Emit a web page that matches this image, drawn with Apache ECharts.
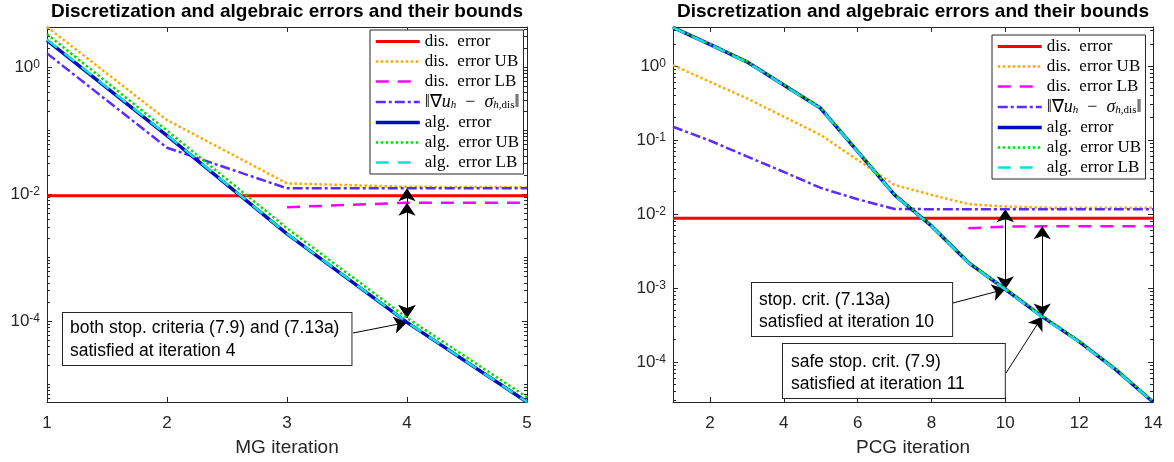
<!DOCTYPE html>
<html><head><meta charset="utf-8">
<script src="https://cdn.jsdelivr.net/npm/echarts@6/dist/echarts.min.js"></script>
<style>html,body{margin:0;padding:0;background:#fff}#c{width:1174px;height:462px}</style>
</head><body><div id="c"></div>
<script>
// ---------- data ----------
const seriesNames = ['dis. error', 'dis. error UB', 'dis. error LB', '‖∇u_h − σ_h,dis‖', 'alg. error', 'alg. error UB', 'alg. error LB'];

const mgIter      = [1, 2, 3, 4, 5];
const mgDisErr    = [0.0094, 0.0094, 0.0094, 0.0094, 0.0094];
const mgDisUB     = [4.27, 0.146, 0.0147, 0.0130, 0.0128];
const mgDisLB     = [null, null, 0.0062, 0.0073, 0.0073];
const mgGradNorm  = [1.64, 0.0536, 0.0123, 0.0123, 0.0123];
const mgAlgErr    = [2.62, 0.083, 0.00236, 0.000095, 0.0000053];
const mgAlgUB     = [3.30, 0.100, 0.00290, 0.000112, 0.0000063];
const mgAlgLB     = [2.72, 0.085, 0.00238, 0.000096, 0.0000053];

const pcgIter     = [1, 2, 3, 4, 5, 6, 7, 8, 9, 10, 11, 12, 13, 14];
const pcgDisErr   = [0.00874, 0.00874, 0.00874, 0.00874, 0.00874, 0.00874, 0.00874, 0.00874, 0.00874, 0.00874, 0.00874, 0.00874, 0.00874, 0.00874];
const pcgDisUB    = [1.03, 0.61, 0.366, 0.207, 0.117, 0.0537, 0.0247, 0.0181, 0.0136, 0.0126, 0.0122, 0.0121, 0.0121, 0.0121];
const pcgDisLB    = [null, null, null, null, null, null, null, null, 0.0064, 0.00674, 0.0068, 0.0068, 0.0068, 0.0068];
const pcgGradNorm = [0.151, 0.098, 0.060, 0.037, 0.0225, 0.0158, 0.0117, 0.0116, 0.0116, 0.0116, 0.0116, 0.0116, 0.0116, 0.0116];
const pcgAlgErr   = [3.33, 1.96, 1.14, 0.553, 0.268, 0.0703, 0.0181, 0.00689, 0.00220, 0.00096, 0.00041, 0.000188, 0.000078, 0.0000287];
const pcgAlgUB    = [3.36, 1.98, 1.15, 0.560, 0.272, 0.0712, 0.0184, 0.00699, 0.00224, 0.00098, 0.00042, 0.000192, 0.000080, 0.0000293];
const pcgAlgLB    = [3.30, 1.94, 1.13, 0.548, 0.265, 0.0697, 0.0179, 0.00682, 0.00218, 0.00095, 0.00040, 0.000186, 0.000077, 0.0000287];

const mgXTicks  = [1, 2, 3, 4, 5];
const pcgXTicks = [2, 4, 6, 8, 10, 12, 14];
const mgYLabels  = [1e-4, 1e-2, 1];
const pcgYLabels = [1e-4, 1e-3, 1e-2, 1e-1, 1];

const titleText = 'Discretization and algebraic errors and their bounds';
const mgBoxText = 'both stop. criteria (7.9) and (7.13a)\nsatisfied at iteration 4';
const pcgBox1Text = 'stop. crit. (7.13a)\nsatisfied at iteration 10';
const pcgBox2Text = 'safe stop. crit. (7.9)\nsatisfied at iteration 11';

// ---------- styling ----------
const AX = '#262626';
const SANS = '"Liberation Sans", Arial, sans-serif';
const SERIF = '"Liberation Serif", "Times New Roman", serif';
const styles = [
  {color: '#ff0000', width: 3,   type: 'solid'},
  {color: '#ffa800', width: 2.5, type: [2.5, 2.5]},
  {color: '#ff00ff', width: 2.5, type: [13, 9]},
  {color: '#5b2bff', width: 2.5, type: [10, 3, 3, 3]},
  {color: '#0010c0', width: 3.5, type: 'solid'},
  {color: '#00e000', width: 2.5, type: [2.5, 2.5]},
  {color: '#18dcdc', width: 2.5, type: [13, 9]}
];

function pairs(xs, ys) {
  const out = [];
  xs.forEach((x, i) => { if (ys[i] != null) out.push([x, ys[i]]); });
  return out;
}
function minorTicks(e0, e1, majors) {
  const t = [];
  for (let e = e0; e <= e1; e++) for (let k = 1; k <= 9; k++) {
    if (k === 1 && majors.indexOf(e) >= 0) continue;
    t.push(+(k * Math.pow(10, e)).toPrecision(6));
  }
  return t;
}
const mgMinor = minorTicks(-6, 0, [-4, -2, 0]);
const pcgMinor = minorTicks(-5, 0, [-4, -3, -2, -1, 0]);

function yLabelFmt(v) {
  const e = Math.round(Math.log10(v));
  return '{b|10}{e|' + e + '}';
}
const yRich = {
  b: {fontSize: 17, fontFamily: SANS, color: AX, lineHeight: 17, verticalAlign: 'bottom'},
  e: {fontSize: 12, fontFamily: SANS, color: AX, lineHeight: 12, verticalAlign: 'top', padding: [0, 0, 7, 0]}
};

function xAxes(gi, min, max, ticks, name) {
  const common = {
    gridIndex: gi, type: 'value', min: min, max: max,
    axisLine: {show: true, onZero: false, lineStyle: {color: AX, width: 1}},
    axisTick: {show: true, inside: true, length: 5, customValues: ticks, lineStyle: {color: AX}},
    splitLine: {show: false}
  };
  return [
    Object.assign({}, common, {
      position: 'bottom',
      axisLabel: {show: true, customValues: ticks, fontSize: 17, fontFamily: SANS, color: AX, margin: 13},
      name: name, nameLocation: 'middle', nameGap: 36,
      nameTextStyle: {fontSize: 19, fontFamily: SANS, color: AX}
    }),
    Object.assign({}, common, {position: 'top', axisLabel: {show: false}})
  ];
}
function yAxes(gi, min, max, labels, minor) {
  const base = {gridIndex: gi, type: 'log', logBase: 10, min: min, max: max, splitLine: {show: false}};
  return [
    Object.assign({}, base, {
      position: 'left',
      axisLine: {show: true, onZero: false, lineStyle: {color: AX, width: 1}},
      axisTick: {show: true, inside: true, length: 5, customValues: labels, lineStyle: {color: AX}},
      axisLabel: {show: true, customValues: labels, formatter: yLabelFmt, rich: yRich, margin: 7}
    }),
    Object.assign({}, base, {
      position: 'left', axisLine: {show: false},
      axisTick: {show: true, inside: true, length: 3, customValues: minor, lineStyle: {color: AX}},
      axisLabel: {show: false}
    }),
    Object.assign({}, base, {
      position: 'right',
      axisLine: {show: true, onZero: false, lineStyle: {color: AX, width: 1}},
      axisTick: {show: true, inside: true, length: 5, customValues: labels, lineStyle: {color: AX}},
      axisLabel: {show: false}
    }),
    Object.assign({}, base, {
      position: 'right', axisLine: {show: false},
      axisTick: {show: true, inside: true, length: 3, customValues: minor, lineStyle: {color: AX}},
      axisLabel: {show: false}
    })
  ];
}

function mkSeries(gi, xs, arrs) {
  return arrs.map((ys, k) => ({
    type: 'line', name: seriesNames[k], xAxisIndex: gi * 2, yAxisIndex: gi * 4,
    data: pairs(xs, ys), symbol: 'none', showSymbol: false, silent: true,
    lineStyle: {color: styles[k].color, width: styles[k].width, type: styles[k].type, cap: 'butt'},
    itemStyle: {color: styles[k].color}, z: 2 + k,
    emphasis: {disabled: true}
  }));
}

const arrowLine = {color: '#000', width: 1, type: 'solid'};
function annot(gi, lines) {
  return {
    type: 'line', name: 'annot' + gi, xAxisIndex: gi * 2, yAxisIndex: gi * 4, data: [],
    silent: true, z: 20,
    markLine: {
      silent: true, animation: false, precision: 10,
      label: {show: false}, lineStyle: arrowLine, emphasis: {disabled: true},
      symbolSize: 13,
      data: lines
    }
  };
}

const legendRich = {
  n: {fontFamily: SERIF, fontSize: 17, lineHeight: 17, color: '#000'},
  m: {fontFamily: SERIF, fontSize: 18, lineHeight: 17, color: '#000'},
  i: {fontFamily: SERIF, fontSize: 18, lineHeight: 17, fontStyle: 'italic', color: '#000'},
  s: {fontFamily: SERIF, fontSize: 11, lineHeight: 17, fontStyle: 'italic', color: '#000', verticalAlign: 'bottom', padding: [4, 0, 0, 0]},
  r: {fontFamily: SERIF, fontSize: 11, lineHeight: 17, color: '#000', verticalAlign: 'bottom', padding: [4, 0, 0, 0]}
};
function legendFmt(name) {
  if (name === seriesNames[3]) return '{m|‖∇}{i|u}{s|h}{m|  −  }{i|σ}{s|h,}{r|dis}{m|‖}';
  return '{n|' + name.replace('. ', '.  ') + '}';
}
function legend(left, top) {
  return {
    left: left, top: top, orient: 'vertical', data: seriesNames,
    itemWidth: 44, itemHeight: 12, itemGap: 3, padding: [3, 4, 3, 4],
    borderColor: AX, borderWidth: 1, backgroundColor: '#fff',
    selectedMode: false, formatter: legendFmt,
    itemStyle: {opacity: 0},
    lineStyle: {width: 'inherit', opacity: 1},
    textStyle: {fontFamily: SERIF, fontSize: 17, color: '#000', rich: legendRich}
  };
}
function textBox(left, top, text, pad, lh) {
  return {
    type: 'text', left: left, top: top, z: 100,
    style: {
      text: text, fontSize: 17.5, fontFamily: SANS, fill: '#000', lineHeight: lh,
      backgroundColor: '#fff', borderColor: AX, borderWidth: 1, padding: pad
    }
  };
}

const option = {
  animation: false,
  backgroundColor: '#fff',
  title: [
    {text: titleText, left: 287, top: 2, padding: 0, textAlign: 'center',
     textStyle: {fontFamily: SANS, fontWeight: 'bold', fontSize: 19, color: '#000'}},
    {text: titleText, left: 913, top: 2, padding: 0, textAlign: 'center',
     textStyle: {fontFamily: SANS, fontWeight: 'bold', fontSize: 19, color: '#000'}}
  ],
  grid: [
    {left: 47, top: 27, width: 480, height: 375, containLabel: false},
    {left: 673, top: 27, width: 480, height: 375, containLabel: false}
  ],
  xAxis: [].concat(xAxes(0, 1, 5, mgXTicks, 'MG iteration'), xAxes(1, 1, 14, pcgXTicks, 'PCG iteration')),
  yAxis: [].concat(yAxes(0, 5.3e-6, 4.27, mgYLabels, mgMinor), yAxes(1, 2.87e-5, 3.37, pcgYLabels, pcgMinor)),
  legend: [legend(370, 30), legend(992, 35)],
  series: [].concat(
    mkSeries(0, mgIter, [mgDisErr, mgDisUB, mgDisLB, mgGradNorm, mgAlgErr, mgAlgUB, mgAlgLB]),
    mkSeries(1, pcgIter, [pcgDisErr, pcgDisUB, pcgDisLB, pcgGradNorm, pcgAlgErr, pcgAlgUB, pcgAlgLB]),
    [
      annot(0, [
        [{coord: [mgIter[3], mgGradNorm[3]], symbol: 'arrow'}, {coord: [mgIter[3], mgAlgUB[3]], symbol: 'arrow'}],
        [{coord: [mgIter[3], mgDisLB[3]], symbol: 'arrow'}, {coord: [mgIter[3], mgAlgUB[3]], symbol: 'arrow'}],
        [{x: 353, y: 333, symbol: 'none'}, {coord: [mgIter[3], mgAlgErr[3]], symbol: 'arrow'}]
      ]),
      annot(1, [
        [{coord: [pcgIter[9], pcgGradNorm[9]], symbol: 'arrow'}, {coord: [pcgIter[9], pcgAlgErr[9]], symbol: 'arrow'}],
        [{coord: [pcgIter[10], pcgDisLB[10]], symbol: 'arrow'}, {coord: [pcgIter[10], pcgAlgErr[10]], symbol: 'arrow'}],
        [{x: 953, y: 303, symbol: 'none'}, {coord: [pcgIter[9], pcgAlgErr[9]], symbol: 'arrow'}],
        [{x: 1006, y: 373, symbol: 'none'}, {coord: [pcgIter[10], pcgAlgErr[10]], symbol: 'arrow'}]
      ])
    ]
  ),
  graphic: [
    textBox(62, 312, mgBoxText, [4, 12, 2, 7], 23),
    textBox(751, 282, pcgBox1Text, [6, 18, 3, 7], 22),
    textBox(782, 343, pcgBox2Text, [7, 40, 3, 8], 22)
  ]
};

const chart = echarts.init(document.getElementById('c'), null, {renderer: 'canvas'});
chart.setOption(option);
</script>
</body></html>
